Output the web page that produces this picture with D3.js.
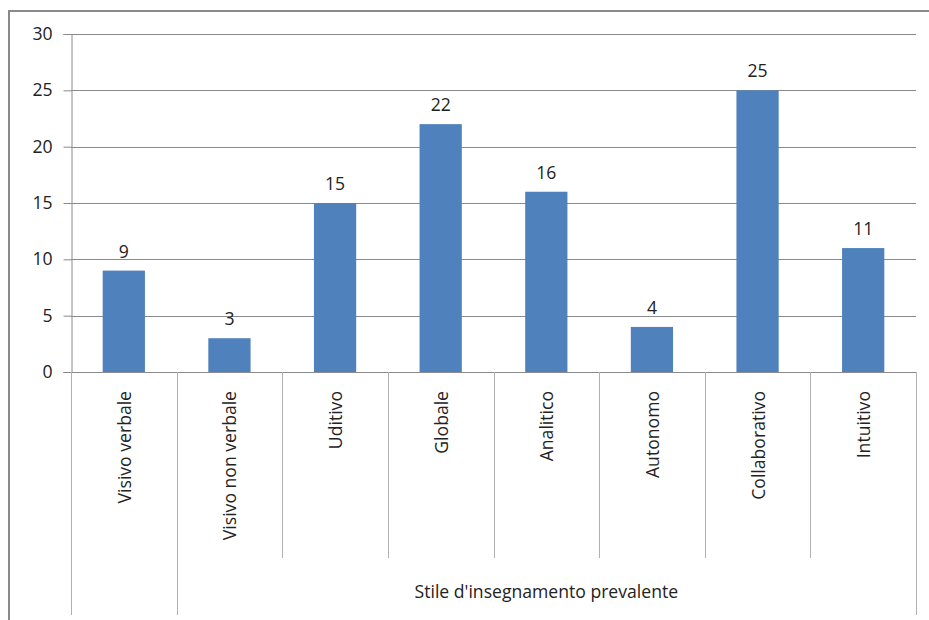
<!DOCTYPE html>
<html>
<head>
<meta charset="utf-8">
<script src="https://cdn.jsdelivr.net/npm/d3@7"></script>
<style>
  html, body { margin: 0; padding: 0; background: #fff; }
  svg { display: block; }
  text { font-family: "Open Sans", "DejaVu Sans", sans-serif; fill: #222; }
</style>
</head>
<body>
<svg id="chart" width="929" height="620"></svg>
<script>
// Teaching-style counts
const categories = ["Visivo verbale", "Visivo non verbale", "Uditivo", "Globale",
                    "Analitico", "Autonomo", "Collaborativo", "Intuitivo"];
const values = [9, 3, 15, 22, 16, 4, 25, 11];
const yTicks = [0, 5, 10, 15, 20, 25, 30];
const groupLabel = "Stile d'insegnamento prevalente";

const svg = d3.select("#chart");
const plot = { left: 71, right: 916, top: 34, bottom: 372 };
const fontSize = 17.6;

// outer frame
svg.append("rect")
  .attr("x", 9).attr("y", 11).attr("width", 940).attr("height", 640)
  .attr("fill", "none").attr("stroke", "#8a8a8a").attr("stroke-width", 2);

const x = d3.scaleBand().domain(categories).range([plot.left, plot.right]).paddingInner(0).paddingOuter(0);
const y = d3.scaleLinear().domain([0, 30]).range([plot.bottom, plot.top]);

// horizontal gridlines
svg.append("g").selectAll("line").data(yTicks).join("line")
  .attr("x1", plot.left).attr("x2", plot.right)
  .attr("y1", d => Math.round(y(d)) + 0.5).attr("y2", d => Math.round(y(d)) + 0.5)
  .attr("stroke", "#8a8a8a").attr("stroke-width", 1);

// y axis with tick labels
const yAxis = d3.axisLeft(y).tickValues(yTicks).tickSize(8).tickPadding(11);
const yg = svg.append("g").attr("transform", `translate(${plot.left + 0.5},0)`).call(yAxis);
yg.select(".domain").attr("stroke", "#8a8a8a");
yg.selectAll(".tick line").attr("stroke", "#8a8a8a");
yg.selectAll(".tick text").attr("font-size", fontSize).attr("fill", "#222")
  .style("font-family", "'Open Sans', sans-serif");

// category separators below the axis
const edges = categories.map(c => x(c)).concat([plot.right]);
svg.append("g").selectAll("line").data(edges).join("line")
  .attr("x1", d => Math.round(d) + 0.5).attr("x2", d => Math.round(d) + 0.5)
  .attr("y1", plot.bottom)
  .attr("y2", (d, i) => (i <= 1 || i === edges.length - 1) ? 615 : 558)
  .attr("stroke", "#b0b0b0").attr("stroke-width", 1);

// bars
const barW = x.bandwidth() * 0.4;
svg.append("g").selectAll("rect").data(values).join("rect")
  .attr("x", (d, i) => x(categories[i]) + (x.bandwidth() - barW) / 2)
  .attr("y", d => y(d))
  .attr("width", barW)
  .attr("height", d => plot.bottom - y(d))
  .attr("fill", "#4f81bd");

// value labels
svg.append("g").selectAll("text").data(values).join("text")
  .attr("x", (d, i) => x(categories[i]) + x.bandwidth() / 2)
  .attr("y", d => y(d) - 13)
  .attr("text-anchor", "middle")
  .attr("font-size", fontSize)
  .text(d => d);

// rotated category labels
svg.append("g").selectAll("text").data(categories).join("text")
  .attr("transform", d => `translate(${x(d) + x.bandwidth() / 2 + 7},391) rotate(-90)`)
  .attr("text-anchor", "end")
  .attr("font-size", fontSize)
  .text(d => d);

// group label
svg.append("text")
  .attr("x", (x(categories[1]) + plot.right) / 2)
  .attr("y", 598)
  .attr("text-anchor", "middle")
  .attr("font-size", fontSize)
  .text(groupLabel);
</script>
</body>
</html>
